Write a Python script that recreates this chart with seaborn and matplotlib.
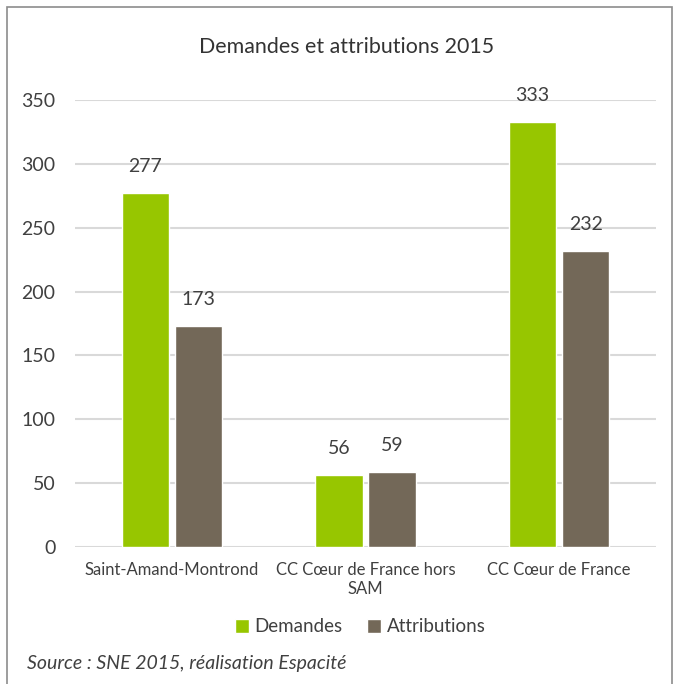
import pandas as pd
import seaborn as sns
import matplotlib.pyplot as plt
from matplotlib.patches import Rectangle

# Data
categories = ['Saint-Amand-Montrond', 'CC Cœur de France hors\nSAM', 'CC Cœur de France']
demandes = [277, 56, 333]
attributions = [173, 59, 232]
series = ['Demandes', 'Attributions']

df = pd.DataFrame({
    'territoire': categories * 2,
    'serie': [series[0]] * 3 + [series[1]] * 3,
    'valeur': demandes + attributions,
})

sns.set_style('white')
plt.rcParams['font.family'] = ['Lato', 'DejaVu Sans']
text_col = '#404040'

fig = plt.figure(figsize=(6.82, 6.84), dpi=100)
ax = fig.add_axes([75 / 682, 1 - 547 / 684, 581 / 682, 447 / 684])

sns.barplot(data=df, x='territoire', y='valeur', hue='serie',
            palette=['#97C600', '#736858'], width=0.55, gap=0.11,
            saturation=1, ax=ax, legend=True)

for c in ax.containers:
    ax.bar_label(c, padding=13, fontsize=14, color=text_col)

ax.set_ylim(0, 350)
ax.set_xlim(-0.5, 2.5)
ax.set_yticks(range(0, 351, 50))
ax.yaxis.grid(True, color='#d9d9d9', linewidth=1.5)
ax.set_axisbelow(True)
sns.despine(ax=ax, left=True, bottom=True)
ax.tick_params(axis='y', length=0, labelsize=14, labelcolor=text_col, pad=14)
ax.tick_params(axis='x', length=0, labelsize=12, labelcolor=text_col, pad=11)
ax.set_xlabel('')
ax.set_ylabel('')

ax.legend(loc='center', bbox_to_anchor=(360 / 682, 1 - 627 / 684),
          bbox_transform=fig.transFigure, ncol=2, frameon=False,
          fontsize=13.5, handlelength=0.75, handleheight=0.75,
          handletextpad=0.3, columnspacing=1.3, labelcolor=text_col)

fig.text(347 / 682, 1 - 47 / 684, 'Demandes et attributions 2015',
         ha='center', va='center', fontsize=15.4, color='#333333')
fig.text(27 / 682, 1 - 663 / 684, 'Source : SNE 2015, réalisation Espacité',
         ha='left', va='center', fontsize=14, style='italic', color=text_col)

# outer frame
fig.patches.append(Rectangle((7 / 682, -0.05), 665 / 682, 1.05 - 7 / 684,
                             transform=fig.transFigure, fill=False,
                             edgecolor='#8c8c8c', linewidth=1.2))

fig.savefig('out.png', dpi=100)
